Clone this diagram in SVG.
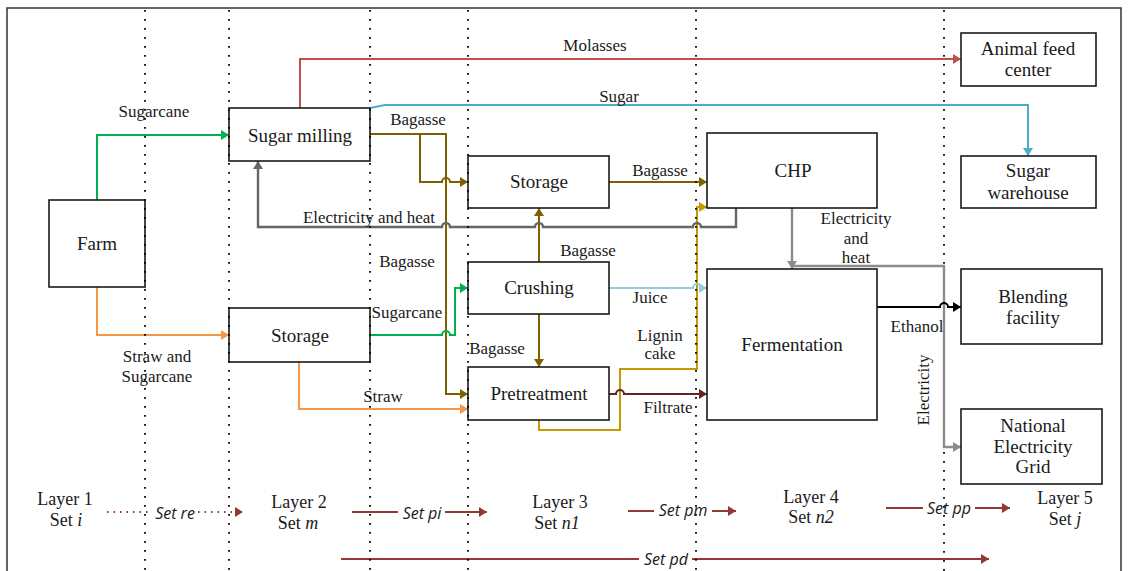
<svg xmlns="http://www.w3.org/2000/svg" width="1129" height="571" viewBox="0 0 1129 571">
<style>
.box{fill:#fff;stroke:#1a1a1a;stroke-width:1.6}
.bt{font-size:19px;fill:#1a1a1a;text-anchor:middle}
.lb{font-size:17px;fill:#1a1a1a;text-anchor:middle}
.ly{font-size:18px;fill:#1a1a1a;text-anchor:middle}
.it{font-style:italic}
.set{font-family:'Open Sans','Liberation Sans',sans-serif;font-style:italic;font-size:16px;fill:#1a1a1a;text-anchor:middle}
.dot{stroke:#000;stroke-width:1.8;stroke-dasharray:1.8 7.2;fill:none}
.c{fill:none;stroke-width:2}
.green{stroke:#00b050}.orange{stroke:#f79646}.red{stroke:#c0504d}.blue{stroke:#4bacc6}
.brown{stroke:#7f6000}.gold{stroke:#c49a00}.dgray{stroke:#666;stroke-width:2.4}.lgray{stroke:#8c8c8c;stroke-width:2.4}
.juice{stroke:#92cddc}.filt{stroke:#632523}.black{stroke:#000}.set-arrow{stroke:#953735}
</style>
<defs>
<marker id="aGreen" markerUnits="userSpaceOnUse" markerWidth="9" markerHeight="10" refX="8" refY="5" orient="auto"><path d="M0,0 L8,5 L0,10 z" fill="#00b050"/></marker>
<marker id="aOrange" markerUnits="userSpaceOnUse" markerWidth="9" markerHeight="10" refX="8" refY="5" orient="auto"><path d="M0,0 L8,5 L0,10 z" fill="#f79646"/></marker>
<marker id="aRed" markerUnits="userSpaceOnUse" markerWidth="9" markerHeight="10" refX="8" refY="5" orient="auto"><path d="M0,0 L8,5 L0,10 z" fill="#c0504d"/></marker>
<marker id="aBlue" markerUnits="userSpaceOnUse" markerWidth="9" markerHeight="10" refX="8" refY="5" orient="auto"><path d="M0,0 L8,5 L0,10 z" fill="#4bacc6"/></marker>
<marker id="aBrown" markerUnits="userSpaceOnUse" markerWidth="9" markerHeight="10" refX="8" refY="5" orient="auto"><path d="M0,0 L8,5 L0,10 z" fill="#7f6000"/></marker>
<marker id="aGold" markerUnits="userSpaceOnUse" markerWidth="9" markerHeight="10" refX="8" refY="5" orient="auto"><path d="M0,0 L8,5 L0,10 z" fill="#c49a00"/></marker>
<marker id="aDGray" markerUnits="userSpaceOnUse" markerWidth="9" markerHeight="10" refX="8" refY="5" orient="auto"><path d="M0,0 L8,5 L0,10 z" fill="#666"/></marker>
<marker id="aLGray" markerUnits="userSpaceOnUse" markerWidth="9" markerHeight="10" refX="8" refY="5" orient="auto"><path d="M0,0 L8,5 L0,10 z" fill="#8c8c8c"/></marker>
<marker id="aJuice" markerUnits="userSpaceOnUse" markerWidth="9" markerHeight="10" refX="8" refY="5" orient="auto"><path d="M0,0 L8,5 L0,10 z" fill="#92cddc"/></marker>
<marker id="aFilt" markerUnits="userSpaceOnUse" markerWidth="9" markerHeight="10" refX="8" refY="5" orient="auto"><path d="M0,0 L8,5 L0,10 z" fill="#632523"/></marker>
<marker id="aBlack" markerUnits="userSpaceOnUse" markerWidth="9" markerHeight="10" refX="8" refY="5" orient="auto"><path d="M0,0 L8,5 L0,10 z" fill="#000"/></marker>
<marker id="aSet" markerUnits="userSpaceOnUse" markerWidth="9" markerHeight="10" refX="8" refY="5" orient="auto"><path d="M0,0 L8,5 L0,10 z" fill="#953735"/></marker>
</defs>
<rect x="0" y="0" width="1129" height="571" fill="#fff"/>
<rect x="7" y="8" width="1114" height="600" fill="none" stroke="#333" stroke-width="1.5"/>

<g id="connectors">
<path class="c green" d="M97,200 L97,135 L229,135" marker-end="url(#aGreen)"/>
<path class="c orange" d="M97,287 L97,335 L229,335" marker-end="url(#aOrange)"/>
<path class="c red" d="M300,108 L300,59 L961,59" marker-end="url(#aRed)"/>
<path class="c blue" d="M370,108 L385,105 L1028,105 L1028,156" marker-end="url(#aBlue)"/>
<path class="c brown" d="M370,134 L446,134 L446,394 L468,394" marker-end="url(#aBrown)"/>
<path class="c brown" d="M420,134 L420,182 L442,182 A4,4 0 0 1 450,182 L468,182" marker-end="url(#aBrown)"/>
<path class="c brown" d="M609,182 L707,182" marker-end="url(#aBrown)"/>
<path class="c brown" d="M539,262 L539,208" marker-end="url(#aBrown)"/>
<path class="c brown" d="M539,314 L539,367" marker-end="url(#aBrown)"/>
<path class="c green" d="M370,335 L442,335 A4,4 0 0 1 450,335 L455,335 L455,288 L468,288" marker-end="url(#aGreen)"/>
<path class="c orange" d="M299,362 L299,409 L468,409" marker-end="url(#aOrange)"/>
<path class="c gold" d="M539,420 L539,430 L620,430 L620,369 L697,369 L697,207 L707,207" marker-end="url(#aGold)"/>
<path class="c juice" d="M609,288 L693,288 A4,4 0 0 1 701,288 L707,288" marker-end="url(#aJuice)"/>
<path class="c filt" d="M609,394 L616,394 A4,4 0 0 1 624,394 L707,394" marker-end="url(#aFilt)"/>
<path class="c dgray" d="M736,208 L736,227 L701,227 A4,4 0 0 0 693,227 L543,227 A4,4 0 0 0 535,227 L450,227 A4,4 0 0 0 442,227 L258,227 L258,161" marker-end="url(#aDGray)"/>
<path class="c lgray" d="M792,208 L792,269" marker-end="url(#aLGray)"/>
<path class="c lgray" d="M792,266 L944,266 L944,447 L961,447" marker-end="url(#aLGray)"/>
<path class="c black" d="M877,307 L940,307 A4,4 0 0 1 948,307 L961,307" marker-end="url(#aBlack)"/>
</g>

<g id="connector-labels" font-family="Liberation Serif, Tinos, Noto Serif, DejaVu Serif, Times New Roman, serif">
<text class="lb" x="154" y="117">Sugarcane</text>
<text class="lb" x="157" y="362">Straw and</text>
<text class="lb" x="157" y="382">Sugarcane</text>
<text class="lb" x="595" y="51">Molasses</text>
<text class="lb" x="619" y="102">Sugar</text>
<text class="lb" x="418" y="125">Bagasse</text>
<text class="lb" x="407" y="267">Bagasse</text>
<text class="lb" x="660" y="176">Bagasse</text>
<text class="lb" x="588" y="256">Bagasse</text>
<text class="lb" x="497" y="354">Bagasse</text>
<text class="lb" x="407" y="318">Sugarcane</text>
<text class="lb" x="383" y="402">Straw</text>
<text class="lb" x="650" y="303">Juice</text>
<text class="lb" x="660" y="341">Lignin</text>
<text class="lb" x="660" y="359">cake</text>
<text class="lb" x="668" y="413">Filtrate</text>
<text class="lb" x="369" y="223">Electricity and heat</text>
<text class="lb" x="856" y="224">Electricity</text>
<text class="lb" x="856" y="244">and</text>
<text class="lb" x="856" y="263">heat</text>
<text class="lb" x="917" y="332">Ethanol</text>
<text class="lb" transform="translate(929,390) rotate(-90)" x="0" y="0">Electricity</text>
</g>

<g id="nodes" font-family="Liberation Serif, Tinos, Noto Serif, DejaVu Serif, Times New Roman, serif">
<g id="farm"><rect class="box" x="49" y="200" width="96" height="87"/><text class="bt" x="97" y="250">Farm</text></g>
<g id="sugar-milling"><rect class="box" x="229" y="108" width="141" height="53"/><text class="bt" x="300" y="142">Sugar milling</text></g>
<g id="storage-2"><rect class="box" x="229" y="308" width="141" height="54"/><text class="bt" x="300" y="342">Storage</text></g>
<g id="storage-3"><rect class="box" x="468" y="156" width="141" height="52"/><text class="bt" x="539" y="188">Storage</text></g>
<g id="crushing"><rect class="box" x="468" y="262" width="141" height="52"/><text class="bt" x="539" y="294">Crushing</text></g>
<g id="pretreatment"><rect class="box" x="468" y="367" width="141" height="53"/><text class="bt" x="539" y="400">Pretreatment</text></g>
<g id="chp"><rect class="box" x="707" y="133" width="170" height="75"/><text class="bt" x="793" y="177">CHP</text></g>
<g id="fermentation"><rect class="box" x="707" y="269" width="170" height="151"/><text class="bt" x="792" y="351">Fermentation</text></g>
<g id="animal-feed"><rect class="box" x="961" y="33" width="135" height="53"/><text class="bt" x="1028" y="55">Animal feed</text><text class="bt" x="1028" y="76">center</text></g>
<g id="sugar-warehouse"><rect class="box" x="961" y="156" width="135" height="52"/><text class="bt" x="1028" y="177">Sugar</text><text class="bt" x="1028" y="199">warehouse</text></g>
<g id="blending"><rect class="box" x="961" y="269" width="141" height="75"/><text class="bt" x="1033" y="303">Blending</text><text class="bt" x="1033" y="324">facility</text></g>
<g id="grid"><rect class="box" x="961" y="409" width="141" height="75"/><text class="bt" x="1033" y="432">National</text><text class="bt" x="1033" y="453">Electricity</text><text class="bt" x="1033" y="473">Grid</text></g>
</g>

<g id="layers">
<g font-family="Liberation Serif, Tinos, Noto Serif, DejaVu Serif, Times New Roman, serif">
<text class="ly" x="65" y="505">Layer 1</text><text class="ly" x="66" y="526">Set <tspan class="it">i</tspan></text>
<text class="ly" x="299" y="508">Layer 2</text><text class="ly" x="298" y="529">Set <tspan class="it">m</tspan></text>
<text class="ly" x="560" y="508">Layer 3</text><text class="ly" x="557" y="529">Set <tspan class="it">n1</tspan></text>
<text class="ly" x="811" y="503">Layer 4</text><text class="ly" x="811" y="523">Set <tspan class="it">n2</tspan></text>
<text class="ly" x="1065" y="504">Layer 5</text><text class="ly" x="1065" y="525">Set <tspan class="it">j</tspan></text>
</g>
<path class="c set-arrow" d="M107,512 L243,512" stroke-dasharray="1.5 5" marker-end="url(#aSet)"/>
<path class="c set-arrow" d="M352,512 L487,512" marker-end="url(#aSet)"/>
<path class="c set-arrow" d="M628,511 L736,511" marker-end="url(#aSet)"/>
<path class="c set-arrow" d="M886,508 L1010,508" marker-end="url(#aSet)"/>
<path class="c set-arrow" d="M341,559 L989,559" marker-end="url(#aSet)"/>
<rect x="152" y="503" width="46" height="18" fill="#fff"/>
<rect x="398" y="503" width="47" height="18" fill="#fff"/>
<rect x="654" y="502" width="58" height="18" fill="#fff"/>
<rect x="923" y="499" width="52" height="18" fill="#fff"/>
<rect x="639" y="551" width="53" height="18" fill="#fff"/>
<text class="set" x="175" y="519">Set re</text>
<text class="set" x="422" y="519">Set pi</text>
<text class="set" x="683" y="516">Set pm</text>
<text class="set" x="949" y="514">Set pp</text>
<text class="set" x="666" y="565">Set pd</text>
</g>

<g id="layer-dividers">
<path class="dot" d="M145,10 L145,571" stroke-dasharray="1.8 9.5"/>
<path class="dot" d="M229,10 L229,571"/>
<path class="dot" d="M370,10 L370,571"/>
<path class="dot" d="M468,10 L468,571"/>
<path class="dot" d="M696,10 L696,571"/>
<path class="dot" d="M944,10 L944,264 M944,452 L944,571"/>
</g>
</svg>
